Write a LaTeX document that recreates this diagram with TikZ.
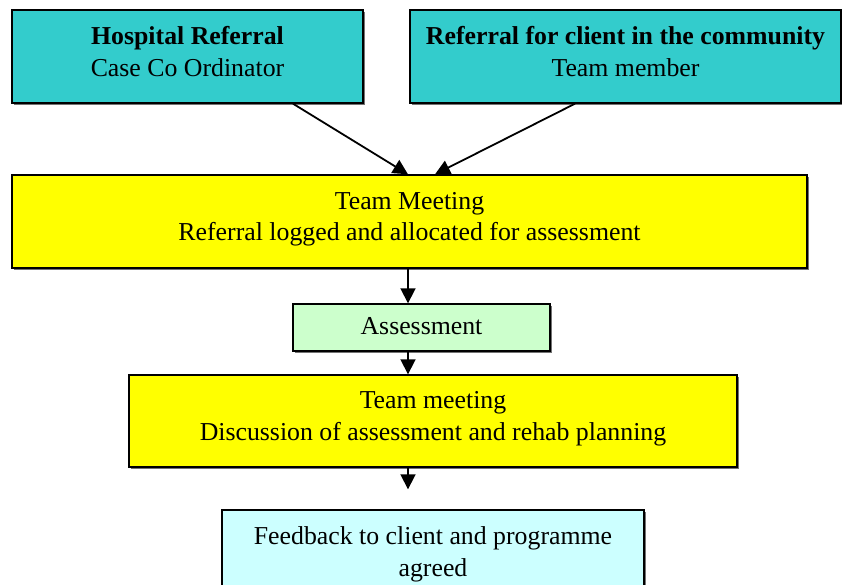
\documentclass[tikz,border=0pt]{standalone}
\usepackage{fontspec}
\setmainfont{Liberation Serif}
\usepackage{xcolor}
\usepackage{tikz}
\usetikzlibrary{
  arrows.meta,
  calc,
  shadows
}
\definecolor{teal}{RGB}{51,204,204}
\definecolor{pureyellow}{RGB}{255,255,0}
\definecolor{palegreen}{RGB}{204,255,204}
\definecolor{palecyan}{RGB}{204,255,255}

\begin{document}
\begin{tikzpicture}[x=1pt, y=-1pt, >={Triangle[width=15pt, length=15pt]},
    font=\fontsize{25.8}{31.5}\selectfont,
    box/.style={draw=black, line width=1.4pt, inner sep=0pt, align=center, text depth=10pt,
        drop shadow={shadow xshift=2pt, shadow yshift=-2pt, fill=black!55, opacity=1}},
    link/.style={->, line width=1.8pt}] % 单位: 1pt = 1 像素

    % 0. 画布范围
    \useasboundingbox (0,0) rectangle (842,585);

    % 1. 转介来源
    \node[box, fill=teal, minimum width=351pt, minimum height=93pt] (hosp) at (187.5,56.5)
        {\textbf{Hospital Referral}\\Case Co Ordinator};
    \node[box, fill=teal, minimum width=431pt, minimum height=93pt] (comm) at (625.5,56.5)
        {\textbf{Referral for client in the community}\\Team member};

    % 2. 团队会议与评估
    \node[box, fill=pureyellow, minimum width=795pt, minimum height=93pt] (meet1) at (409.5,221.5)
        {Team Meeting\\Referral logged and allocated for assessment};
    \node[box, fill=palegreen, minimum width=257pt, minimum height=47pt, text depth=3pt] (assess) at (421.5,327.5)
        {Assessment};
    \node[box, fill=pureyellow, minimum width=608pt, minimum height=92pt] (meet2) at (433,421)
        {Team meeting\\Discussion of assessment and rehab planning};
    \node[box, fill=palecyan, minimum width=422pt, minimum height=93pt] (feed) at (433,556.5)
        {Feedback to client and programme\\agreed};

    % 3. 箭头
    \coordinate (axis) at (408,0);
    \draw[link] ([xshift=105.5pt]hosp.south) -- ([xshift=-1.5pt]meet1.north);
    \draw[link] ([xshift=-50.5pt]comm.south) -- ([xshift=25.5pt]meet1.north);
    \draw[link] (meet1.south -| axis) -- (assess.north -| axis);
    \draw[link] (assess.south -| axis) -- (meet2.north -| axis);
    \draw[link, shorten >=20pt] (meet2.south -| axis) -- (feed.north -| axis);

\end{tikzpicture}
\end{document}
